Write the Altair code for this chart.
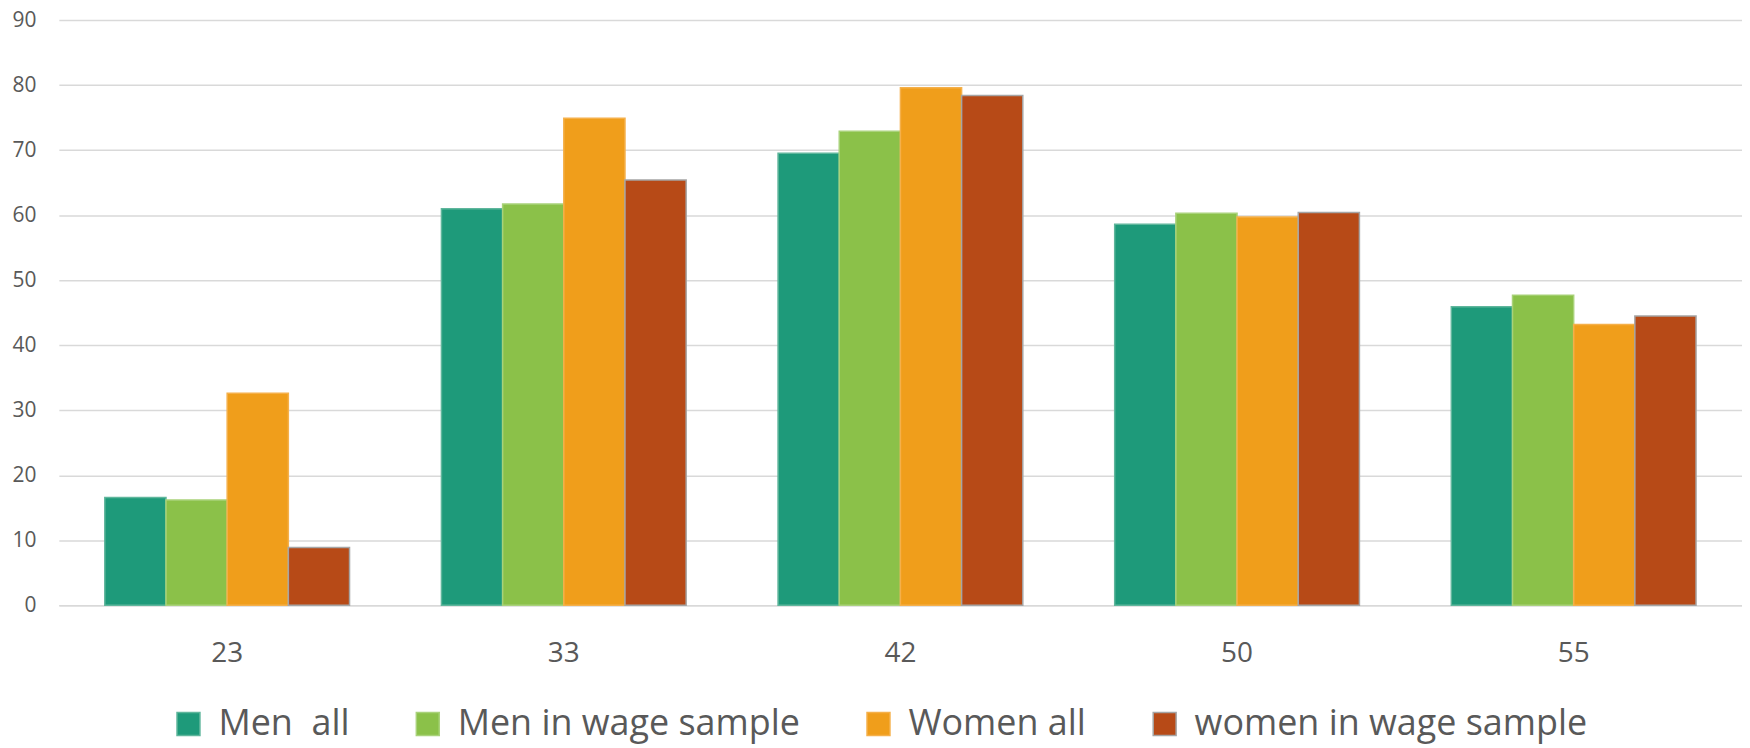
import altair as alt
import pandas as pd

ages = ["23", "33", "42", "50", "55"]
series = ["Men\u00a0 all", "Men in wage sample", "Women all", "women in wage sample"]
men_all = [16.6, 61.0, 69.5, 58.6, 45.9]
men_wage = [16.2, 61.7, 72.9, 60.3, 47.7]
women_all = [32.6, 74.9, 79.6, 59.7, 43.2]
women_wage = [8.9, 65.4, 78.4, 60.4, 44.5]
fill_colors = ["#1E9A7A", "#8BC149", "#F09E1B", "#B74A17"]
stroke_colors = ["#5FB69C", "#A9D27A", "#F5B04A", "#A5A5A5"]

rows = []
for s, vals in zip(series, [men_all, men_wage, women_all, women_wage]):
    for a, v in zip(ages, vals):
        rows.append({"age": a, "series": s, "value": v})
df = pd.DataFrame(rows)

FONT = "Open Sans"
GREY = "#595959"

chart = alt.Chart(df).mark_bar(strokeWidth=1.5).encode(
    x=alt.X("age:N", sort=ages, title=None,
            scale=alt.Scale(paddingInner=0.273, paddingOuter=0.1365),
            axis=alt.Axis(labelAngle=0, labelFontSize=28, labelColor=GREY, labelFont=FONT,
                          ticks=False, domainColor="#D9D9D9", domainWidth=1.5,
                          labelPadding=34)),
    xOffset=alt.XOffset("series:N", sort=series, scale=alt.Scale(paddingInner=0, paddingOuter=0)),
    y=alt.Y("value:Q", title=None,
            scale=alt.Scale(domain=[0, 90], nice=False),
            axis=alt.Axis(values=list(range(0, 91, 10)), labelFontSize=21, labelColor=GREY,
                          labelFont=FONT, ticks=False, domain=False, gridColor="#D9D9D9",
                          gridWidth=1.5, labelPadding=23)),
    fill=alt.Fill("series:N", sort=series,
                  scale=alt.Scale(domain=series, range=fill_colors),
                  legend=alt.Legend(title=None)),
    stroke=alt.Stroke("series:N", sort=series,
                      scale=alt.Scale(domain=series, range=stroke_colors),
                      legend=alt.Legend(title=None)),
).properties(
    width=1688,
    height=587,
    autosize=alt.AutoSizeParams(type="none"),
    padding={"left": 51, "top": 11, "right": 0, "bottom": 139},
).configure_view(
    stroke=None
).configure_legend(
    orient="none",
    legendX=112,
    legendY=688,
    direction="horizontal",
    columns=4,
    labelFontSize=36,
    labelFont=FONT,
    labelColor=GREY,
    labelLimit=800,
    labelOffset=12,
    symbolType="square",
    symbolSize=529,
    symbolStrokeWidth=1.5,
    columnPadding=60,
    padding=0,
)

chart.save("out.html", embed_options={"renderer": "svg", "actions": False})
